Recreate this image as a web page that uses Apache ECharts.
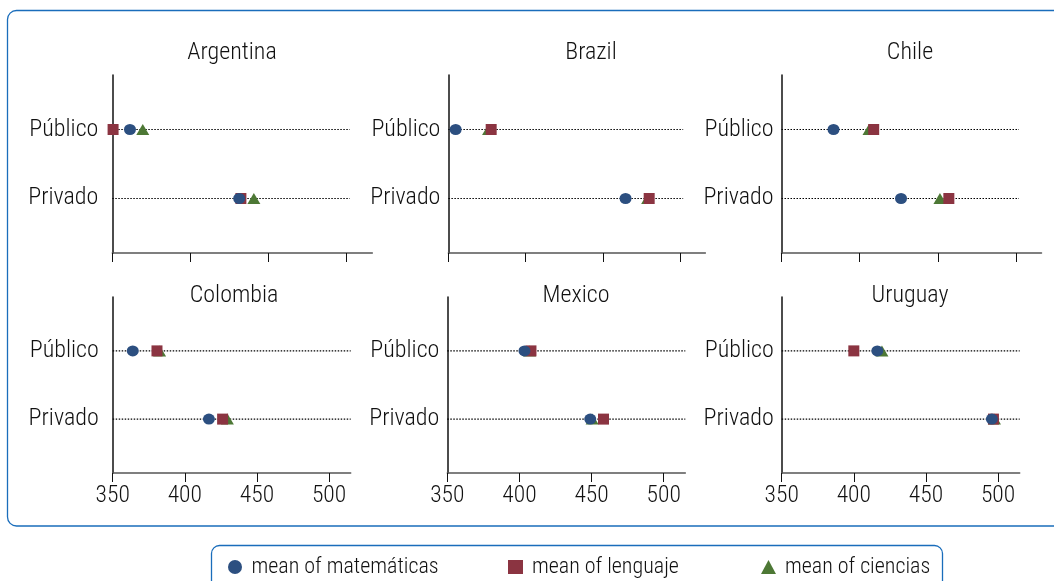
<!DOCTYPE html>
<html>
<head>
<meta charset="utf-8">
<title>Medias por sector</title>
<script src="https://cdn.jsdelivr.net/npm/echarts@6/dist/echarts.min.js"></script>
<style>
  html, body { margin: 0; padding: 0; background: #fff; }
  #chart { width: 1054px; height: 581px; }
</style>
</head>
<body>
<div id="chart"></div>
<script>
// Panels, rows inside each panel, and x tick values
const countries = ['Argentina', 'Brazil', 'Chile', 'Colombia', 'Mexico', 'Uruguay'];
const sectors = ['Público', 'Privado'];
const xTicks = [350, 400, 450, 500];

// Mean scores per country: [Público, Privado]
const matematicas = [[361.3, 431.2], [354.7, 464.7], [383.3, 426.5], [363.9, 416.7], [403.5, 449.1], [416.3, 495.7]];
const lenguaje    = [[350.5, 432.3], [377.7, 480.0], [409.0, 457.1], [380.7, 426.2], [408.0, 458.3], [400.0, 496.8]];
const ciencias    = [[369.5, 440.6], [376.0, 479.0], [406.0, 451.4], [382.5, 429.5], [407.0, 450.4], [419.5, 497.5]];

const seriesNames = ['mean of matemáticas', 'mean of lenguaje', 'mean of ciencias'];

const FONT = "'Roboto Condensed', 'DejaVu Sans Condensed', sans-serif";
const WEIGHT = 350;
const COLORS = { mat: '#2c4f80', len: '#8b3441', cie: '#4d7835' };
const X_MIN = 350;

// Panel geometry (pixels) and axis extents per panel
const panels = [
  { left: 112.3, top: 75,  width: 260, height: 178, xMax: 516.4, guideEnd: 502, labels: false, yMargin: 14, titleX: 232, titleY: 53 },
  { left: 448.4, top: 75,  width: 257, height: 178, xMax: 516.4, guideEnd: 502, labels: false, yMargin: 8,  titleX: 591, titleY: 53 },
  { left: 781.5, top: 75,  width: 260, height: 178, xMax: 516.4, guideEnd: 502, labels: false, yMargin: 8,  titleX: 910, titleY: 53 },
  { left: 112.7, top: 297, width: 238, height: 176, xMax: 515,   guideEnd: 515, labels: true,  yMargin: 14, titleX: 234, titleY: 296 },
  { left: 447.3, top: 297, width: 238, height: 176, xMax: 515,   guideEnd: 515, labels: true,  yMargin: 8,  titleX: 576, titleY: 296 },
  { left: 781.7, top: 297, width: 238, height: 176, xMax: 515,   guideEnd: 515, labels: true,  yMargin: 8,  titleX: 910, titleY: 296 }
];

// Público sits on the upper row, Privado on the lower one
const rowValue = i => sectors.length - i;

const grids = [], xAxes = [], yAxes = [], titleTexts = [], series = [];

panels.forEach((p, k) => {
  grids.push({ left: p.left, top: p.top, width: p.width, height: p.height, containLabel: false });
  titleTexts.push({
    type: 'text', x: p.titleX, y: p.titleY, silent: true,
    style: { text: countries[k], fontFamily: FONT, fontWeight: WEIGHT, fontSize: 24, fill: '#111',
             textAlign: 'center', textVerticalAlign: 'middle' }
  });
  xAxes.push({
    type: 'value', gridIndex: k, min: X_MIN, max: p.xMax,
    axisLine: { show: true, lineStyle: { color: '#555', width: 1.5 } },
    axisTick: { show: true, customValues: xTicks, length: 9, lineStyle: { color: '#111', width: 1 } },
    axisLabel: { show: p.labels, customValues: xTicks, margin: 11, fontFamily: FONT, fontWeight: WEIGHT,
                 fontSize: 23.5, color: '#111' },
    splitLine: { show: false }
  });
  yAxes.push({
    type: 'value', gridIndex: k, min: 0.21, max: 2.79,
    axisLine: { show: true, lineStyle: { color: '#111', width: 1.5 } },
    axisTick: { show: false },
    axisLabel: {
      show: true, customValues: sectors.map((_, i) => rowValue(i)), margin: p.yMargin,
      formatter: v => sectors[sectors.length - Math.round(v)] || '',
      fontFamily: FONT, fontWeight: WEIGHT, fontSize: 24, color: '#111', padding: [4, 0, 0, 0]
    },
    splitLine: { show: false }
  });

  // dotted guide for each row
  sectors.forEach((s, i) => {
    series.push({
      type: 'line', xAxisIndex: k, yAxisIndex: k, silent: true, symbol: 'none', z: 1,
      data: [[X_MIN, rowValue(i)], [p.guideEnd, rowValue(i)]],
      lineStyle: { color: '#000', width: 1.2, type: [1.5, 1.5] }
    });
  });

  // markers: ciencias first so lenguaje and matemáticas draw over it
  const sets = [
    { name: seriesNames[2], vals: ciencias[k],    symbol: 'triangle', size: [13, 11], color: COLORS.cie },
    { name: seriesNames[1], vals: lenguaje[k],    symbol: 'rect',     size: [11, 11], color: COLORS.len },
    { name: seriesNames[0], vals: matematicas[k], symbol: 'circle',   size: [12, 11], color: COLORS.mat }
  ];
  sets.forEach(d => {
    series.push({
      type: 'scatter', name: d.name, xAxisIndex: k, yAxisIndex: k, z: 3,
      symbol: d.symbol, symbolSize: d.size,
      itemStyle: { color: d.color, opacity: 1 },
      data: d.vals.map((v, i) => [v, rowValue(i)])
    });
  });
});

// One legend entry per series, spaced across the framed box
const legendEntries = [
  { name: seriesNames[0], left: 223, icon: 'circle' },
  { name: seriesNames[1], left: 503, icon: 'rect' },
  { name: seriesNames[2], left: 756, icon: 'triangle' }
];
const legends = legendEntries.map(e => ({
  data: [{ name: e.name, icon: e.icon }],
  left: e.left, top: 551, itemWidth: 15, itemHeight: 14, itemGap: 10,
  textStyle: { fontFamily: FONT, fontWeight: WEIGHT, fontSize: 22, color: '#111', padding: [0, 0, 0, 4] },
  selectedMode: false
}));

const chart = echarts.init(document.getElementById('chart'), null, { renderer: 'canvas' });
chart.setOption({
  animation: false,
  backgroundColor: '#fff',
  grid: grids,
  xAxis: xAxes,
  yAxis: yAxes,
  legend: legends,
  graphic: [
    { type: 'rect', z: -1, silent: true,
      shape: { x: 7.5, y: 10.5, width: 1070, height: 515.5, r: 9 },
      style: { fill: 'none', stroke: '#1a6dbb', lineWidth: 1.3 } },
    { type: 'rect', z: -1, silent: true,
      shape: { x: 211.5, y: 545.5, width: 731, height: 60, r: 8 },
      style: { fill: 'none', stroke: '#1a6dbb', lineWidth: 1.3 } }
  ].concat(titleTexts),
  series: series
});
</script>
</body>
</html>
